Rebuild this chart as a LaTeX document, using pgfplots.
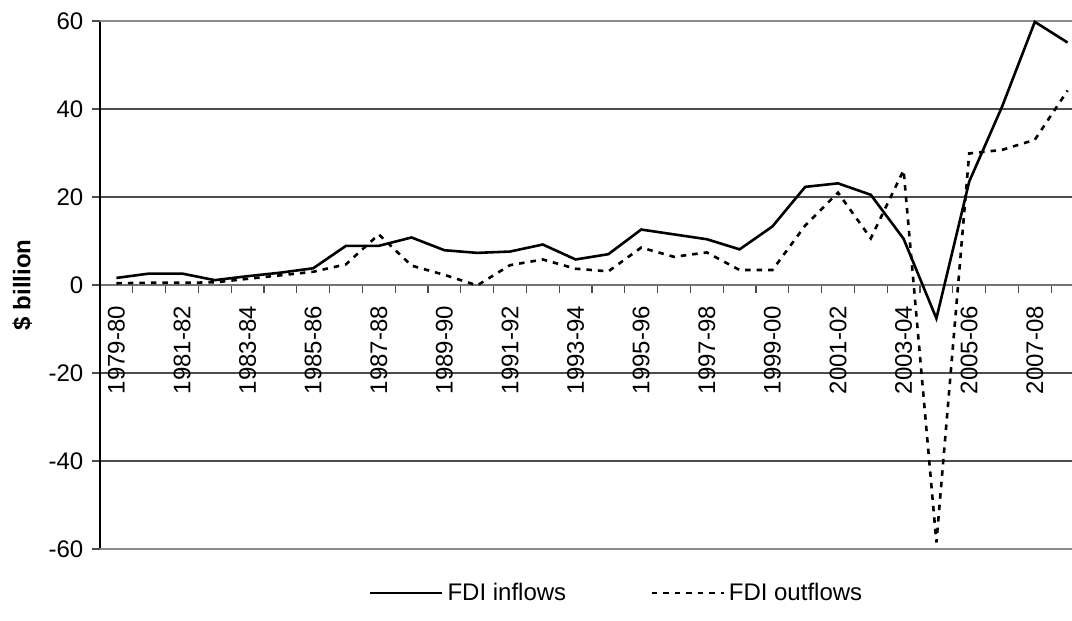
\documentclass[border=0pt]{standalone}
\usepackage{fontspec}
\setmainfont{Liberation Sans}
\usepackage{pgfplots}
\usepackage{pgfplotstable}
\pgfplotsset{compat=1.18}
\pgfplotstableread{
x in out
0 1.6 0.4
1 2.6 0.5
2 2.6 0.5
3 1.1 0.6
4 2.0 1.4
5 2.8 2.2
6 3.8 3.0
7 8.9 4.7
8 8.9 11.5
9 10.8 4.4
10 7.9 2.3
11 7.3 -0.1
12 7.6 4.5
13 9.2 5.8
14 5.8 3.7
15 7.0 3.1
16 12.6 8.5
17 11.5 6.4
18 10.4 7.4
19 8.1 3.4
20 13.3 3.4
21 22.3 13.5
22 23.1 21.0
23 20.5 10.6
24 10.5 26.1
25 -7.6 -58.5
26 23.5 29.9
27 40.5 30.7
28 59.8 33.0
29 55.1 44.2
}\fdi
\newcommand{\cf}{\fontsize{12}{14}\selectfont}
\begin{document}
\begin{tikzpicture}
\useasboundingbox (0,0) rectangle (536pt,310.5pt);
\begin{axis}[
  at={(50pt,36pt)}, anchor=south west,
  scale only axis, width=492pt, height=264pt,
  xmin=-0.5, xmax=29.5, ymin=-60, ymax=60,
  axis y line*=left, axis x line*=middle,
  y axis line style={black, line width=1pt},
  x axis line style={black!55, line width=1pt},
  ytick={-60,-40,...,60},
  extra y ticks={-60,60}, extra y tick labels={},
  extra y tick style={grid style={black!45, line width=1.2pt}},
  ymajorgrids, grid style={black!70, line width=0.6pt},
  xtick={0.5,1.5,...,28.5}, xticklabels={},
  extra x ticks={0,2,...,28},
  extra x tick labels={1979-80,1981-82,1983-84,1985-86,1987-88,1989-90,1991-92,1993-94,1995-96,1997-98,1999-00,2001-02,2003-04,2005-06,2007-08},
  extra x tick style={major tick length=0pt, xmajorgrids=false,
    xticklabel style={yshift=-7pt, rotate=90, anchor=east, font=\cf}},
  tick align=outside, major tick length=3.8pt,
  tick style={black!70, line width=0.6pt},
  /pgf/number format/assume math mode=true,
  tick label style={font=\cf},
  yticklabel style={font=\cf, xshift=-1pt},
  ylabel={\textbf{\$ billion}},
  ylabel style={font=\cf, at={(axis description cs:-0.079,0.5)}, anchor=center, rotate=0},
  legend style={at={(0.526,-0.083)}, anchor=center, draw=none, legend columns=2,
    font=\cf,
    /tikz/every even column/.append style={column sep=40pt}},
  legend image code/.code={\draw[#1] (0pt,0pt) -- (36pt,0pt);},
]
\addplot[black, line width=1.3pt, no marks] table[x=x, y=in] {\fdi};
\addlegendentry{FDI inflows}
\addplot[black, line width=1.3pt, no marks, dash pattern=on 2.75pt off 3pt] table[x=x, y=out] {\fdi};
\addlegendentry{FDI outflows}
\end{axis}
\end{tikzpicture}
\end{document}
